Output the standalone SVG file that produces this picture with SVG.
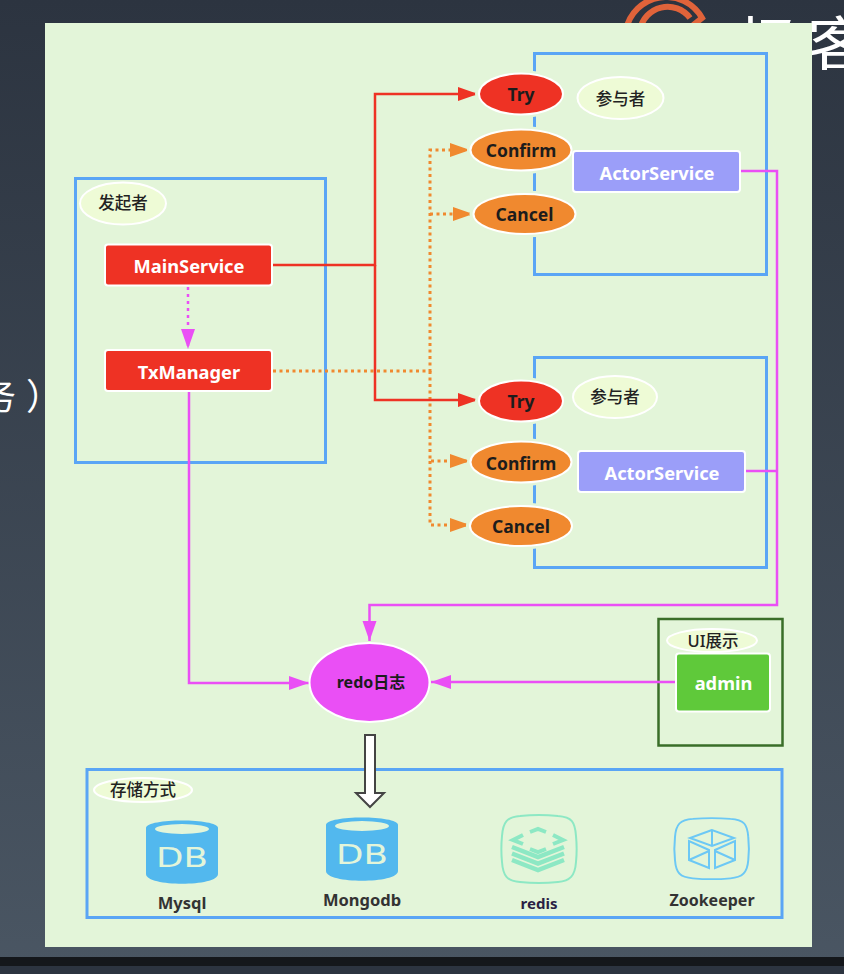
<svg xmlns="http://www.w3.org/2000/svg" width="844" height="974" viewBox="0 0 844 974">
<defs>
<linearGradient id="bg" x1="0" y1="0" x2="0" y2="1"><stop offset="0" stop-color="#2c3440"/><stop offset="1" stop-color="#4a5663"/></linearGradient>
<marker id="mr" markerUnits="userSpaceOnUse" markerWidth="22" markerHeight="16" refX="20" refY="7" orient="auto"><path d="M0 0L20 7L0 14Z" fill="#ee3224"/></marker>
<marker id="mo" markerUnits="userSpaceOnUse" markerWidth="22" markerHeight="16" refX="20" refY="7" orient="auto"><path d="M0 0L20 7L0 14Z" fill="#f0892f"/></marker>
<marker id="mp" markerUnits="userSpaceOnUse" markerWidth="22" markerHeight="16" refX="20" refY="7" orient="auto"><path d="M0 0L20 7L0 14Z" fill="#ea4ff5"/></marker>
<g id="db"><path d="M-36 -24C-36 -34 36 -34 36 -24V22C36 35 -36 35 -36 22Z" fill="#52b8ee"/><ellipse cx="0" cy="-23" rx="27" ry="5" fill="#e3f5d9"/><text x="0" y="15" text-anchor="middle" font-size="26" class="dbt" textLength="52" lengthAdjust="spacingAndGlyphs">DB</text></g>
<path id="squircle" d="M18 1C28 0 46 0 56 1C70 2 73 7 74 21C75 31 75 37 74 47C73 61 68 66 56 67C46 68 28 68 18 67C5 66 1 61 0 47C-1 37 -1 31 0 21C1 7 5 2 18 1Z" fill="none" stroke-width="2"/>
</defs>
<style>
text{font-family:"Noto Sans","Noto Sans CJK SC",sans-serif}
.t{font-size:17.500px;font-weight:700;text-anchor:middle}
.r{font-size:18.300px}
.w{fill:#fff}.k{fill:#1c1c1c}
.tag{font-size:16.500px;font-weight:500;text-anchor:middle;fill:#222}
.dbt{fill:#e3f5d9;font-family:"DejaVu Sans",sans-serif}
.box{fill:none;stroke:#5aa5f5;stroke-width:3}
.lab{fill:#eefbd6;stroke:#fff;stroke-width:2}
.n{stroke:#fff;stroke-width:2}
.h{fill:none;stroke:#e3f5d9;stroke-width:4}
.c{fill:none;stroke-width:2.500}
.o{stroke:#f0892f;stroke-width:3;stroke-dasharray:3 3.500}
.cap{font-size:16.500px;font-weight:700;text-anchor:middle;fill:#333}
</style>
<rect width="844" height="974" fill="url(#bg)"/>
<rect y="957" width="844" height="9" fill="#14171b"/>
<rect y="966" width="844" height="8" fill="#2c3440"/>
<g id="backdrop">
<path d="M626 30A41 41 0 0 1 702 18L692 26" fill="none" stroke="#e0633a" stroke-width="6"/>
<path d="M640 30A28 28 0 0 1 690 18" fill="none" stroke="#e0633a" stroke-width="6"/>
<text transform="translate(735 65) scale(1.05 .9)" font-size="64" letter-spacing="4" fill="#fff" style="font-family:'Noto Sans CJK SC',sans-serif">极客</text>
<text x="-20 26" y="410" font-size="36" fill="#fff" style="font-family:'Noto Sans CJK SC',sans-serif">务）</text>
</g>
<rect x="45" y="23" width="767" height="924" fill="#e3f5d9"/>
<rect class="box" x="75.500" y="178.500" width="250" height="284"/>
<rect class="box" x="534.500" y="53.500" width="232" height="221"/>
<rect class="box" x="534.500" y="357.500" width="232" height="210"/>
<rect class="box" x="87" y="769.500" width="695" height="148"/>
<rect x="658.500" y="619" width="124" height="126.500" fill="none" stroke="#3a6e28" stroke-width="2.500"/>
<g id="connectors">
<path class="c o" d="M273 371H430V150H470" marker-end="url(#mo)"/>
<path class="c o" d="M430 214H473" marker-end="url(#mo)"/>
<path class="c o" d="M430 371V461H470" marker-end="url(#mo)"/>
<path class="c o" d="M430 461V525H470" marker-end="url(#mo)"/>
<path class="c" stroke="#ee3224" d="M273 265H375V94H478" marker-end="url(#mr)"/>
<path class="c" stroke="#ee3224" d="M375 265V400H478" marker-end="url(#mr)"/>
<path class="c" stroke="#ea4ff5" stroke-width="3" stroke-dasharray="3 4" d="M188 287V349" marker-end="url(#mp)"/>
<path class="c" stroke="#ea4ff5" d="M189 392V683H309" marker-end="url(#mp)"/>
<path class="c" stroke="#ea4ff5" d="M741 171H777V605H369.500V641" marker-end="url(#mp)"/>
<path class="c" stroke="#ea4ff5" d="M746 471H777"/>
<path class="c" stroke="#ea4ff5" d="M676 682H431" marker-end="url(#mp)"/>
<path d="M365 735H375V793H384L370 807L356 793H365Z" fill="#fff" stroke="#444" stroke-width="2"/>
</g>
<g id="initiator-label"><ellipse class="lab" cx="123" cy="203.500" rx="43" ry="21"/><text class="tag" x="123" y="209">发起者</text></g>
<g id="MainService"><rect class="n" x="105" y="244.500" width="167" height="41" rx="3" fill="#ee3224"/><text class="t r w" x="189" y="272.500">MainService</text></g>
<g id="TxManager"><rect class="n" x="105" y="350" width="167" height="41" rx="3" fill="#ee3224"/><text class="t r w" x="189" y="378.500">TxManager</text></g>
<g id="Try1"><ellipse class="h" cx="521" cy="94" rx="44" ry="22"/><ellipse class="n" cx="521" cy="94" rx="42" ry="20.500" fill="#ee3224"/><text class="t k" x="521" y="101">Try</text></g>
<g id="part1-label"><ellipse class="lab" cx="620.500" cy="98" rx="43" ry="21"/><text class="tag" x="620.500" y="105">参与者</text></g>
<g id="Confirm1"><ellipse class="h" cx="521" cy="150" rx="52" ry="22"/><ellipse class="n" cx="521" cy="150" rx="50.500" ry="20.500" fill="#f0892f"/><text class="t k" x="521" y="157">Confirm</text></g>
<g id="Cancel1"><ellipse class="h" cx="524.500" cy="214" rx="53" ry="21.500"/><ellipse class="n" cx="524.500" cy="214" rx="51" ry="20" fill="#f0892f"/><text class="t k" x="524.500" y="221">Cancel</text></g>
<g id="ActorService1"><rect class="n" x="573" y="151" width="167" height="41" rx="3" fill="#9b9ef9"/><text class="t r w" x="657" y="179.500">ActorService</text></g>
<g id="Try2"><ellipse class="h" cx="521" cy="401" rx="44" ry="22"/><ellipse class="n" cx="521" cy="401" rx="42" ry="20.500" fill="#ee3224"/><text class="t k" x="521" y="408">Try</text></g>
<g id="part2-label"><ellipse class="lab" cx="615" cy="397" rx="42" ry="21"/><text class="tag" x="615" y="403">参与者</text></g>
<g id="Confirm2"><ellipse class="h" cx="521" cy="462" rx="52" ry="22"/><ellipse class="n" cx="521" cy="462" rx="50.500" ry="20.500" fill="#f0892f"/><text class="t k" x="521" y="470">Confirm</text></g>
<g id="Cancel2"><ellipse class="h" cx="521" cy="526" rx="53" ry="21.500"/><ellipse class="n" cx="521" cy="526" rx="51" ry="20" fill="#f0892f"/><text class="t k" x="521" y="533">Cancel</text></g>
<g id="ActorService2"><rect class="n" x="578" y="451" width="167" height="41" rx="3" fill="#9b9ef9"/><text class="t r w" x="662" y="479.500">ActorService</text></g>
<g id="redo"><ellipse class="n" cx="369.500" cy="682.500" rx="60" ry="39.500" fill="#ea4ff5"/><text class="t k" x="371" y="688" style="font-size:16px">redo日志</text></g>
<g id="ui-label"><ellipse class="lab" cx="712" cy="640.500" rx="45" ry="11.500"/><text class="tag" x="713" y="647">UI展示</text></g>
<g id="admin"><rect class="n" x="676" y="653.500" width="94" height="58" rx="3" fill="#5fc93a"/><text class="t r w" x="723.500" y="690">admin</text></g>
<g id="storage-label"><ellipse class="lab" cx="143" cy="790" rx="49" ry="12"/><text class="tag" x="143" y="796">存储方式</text></g>
<g id="Mysql"><use href="#db" x="182" y="852"/><text class="cap" x="182" y="909">Mysql</text></g>
<g id="Mongodb"><use href="#db" x="362" y="849"/><text class="cap" x="362" y="906">Mongodb</text></g>
<g id="redis">
<use href="#squircle" x="502" y="815" stroke="#8de8c4"/>
<path d="M530 832L538 829L546 832M553 835L563 840L553 844M546 849L538 852L530 849M523 844L513 840L523 835" fill="none" stroke="#8de8c4" stroke-width="4"/>
<path d="M512 847L538 857L564 847M512 853.500L538 863.500L564 853.500M512 860L538 870L564 860" fill="none" stroke="#8de8c4" stroke-width="4.500"/>
<text class="cap" x="539" y="909" style="fill:#2a1f44;font-size:15px">redis</text>
</g>
<g id="Zookeeper">
<use href="#squircle" stroke="#6cc8f5" transform="translate(675 818) scale(.99 .9)"/>
<path d="M712 830L690 838L712 846L734 838ZM712 830V846M689 841V860L709 868V850ZM689 860L709 851M735 841V860L715 868V850ZM735 860L715 851" fill="none" stroke="#6cc8f5" stroke-width="2"/>
<text class="cap" x="712" y="906" style="font-size:16px">Zookeeper</text>
</g>
</svg>
